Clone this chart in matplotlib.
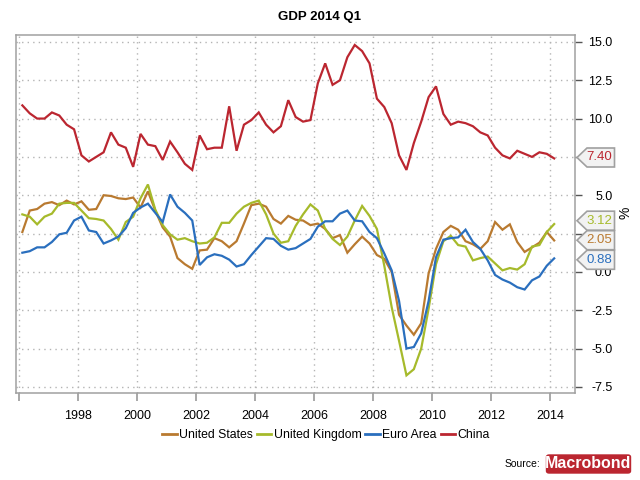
import numpy as np
import matplotlib
matplotlib.use("Agg")
import matplotlib.pyplot as plt
from matplotlib.patches import Polygon, FancyBboxPatch
from matplotlib.lines import Line2D

plt.rcParams['font.family'] = ['Liberation Sans', 'DejaVu Sans']

quarters = np.arange(1996.125, 2014.2, 0.25)

china = [10.86,10.34,10.0,10.0,10.4,10.2,9.6,9.3,7.6,7.2,7.5,7.8,9.1,8.3,8.1,6.85,9.0,8.3,8.2,7.3,
         8.5,7.8,7.05,6.65,8.9,8.0,8.1,8.1,10.8,7.9,9.6,9.9,10.4,9.6,9.1,9.5,11.2,10.1,9.8,9.9,
         12.3,13.6,12.2,12.5,14.0,14.8,14.4,13.6,11.3,10.75,9.7,7.6,6.65,8.4,9.8,11.4,12.1,10.3,9.6,9.8,
         9.7,9.5,9.1,8.9,8.1,7.6,7.4,7.9,7.7,7.5,7.8,7.7,7.40]
us = [2.6,4.0,4.1,4.45,4.55,4.35,4.65,4.4,4.6,4.05,4.1,5.0,4.95,4.8,4.75,4.85,4.2,5.25,4.0,2.9,
      2.3,0.9,0.5,0.2,1.4,1.45,2.2,2.0,1.6,2.0,3.15,4.35,4.45,4.25,3.45,3.15,3.65,3.4,3.35,3.05,
      3.15,2.8,2.2,2.4,1.25,1.8,2.3,1.85,1.1,0.85,0.0,-2.8,-3.5,-4.1,-3.35,-0.1,1.5,2.6,3.0,2.75,
      2.0,1.8,1.5,2.0,3.25,2.75,3.1,1.95,1.3,1.6,1.9,2.6,2.05]
uk = [3.75,3.6,3.1,3.6,3.8,4.45,4.5,4.5,4.0,3.5,3.45,3.35,2.8,2.1,3.25,3.6,4.8,5.7,4.05,3.05,
      2.45,2.1,2.2,2.0,1.85,1.9,2.25,3.2,3.2,3.8,4.25,4.5,4.65,3.75,2.5,1.9,2.0,3.0,3.75,4.4,
      4.0,2.8,2.15,1.75,2.3,3.35,4.3,3.65,2.8,0.4,-2.3,-4.5,-6.75,-6.35,-5.0,-2.4,0.5,2.0,2.35,1.75,
      1.65,0.75,0.9,1.0,0.55,0.1,0.25,0.15,0.5,1.65,1.75,2.6,3.12]
euro = [1.25,1.35,1.6,1.6,1.95,2.45,2.55,3.35,3.6,2.7,2.6,1.85,2.05,2.3,2.85,3.85,4.2,4.45,3.85,3.25,
        5.05,4.25,3.85,3.35,0.45,0.95,1.15,1.05,0.8,0.35,0.5,1.1,1.65,2.2,2.15,1.7,1.45,1.55,1.85,2.15,
        2.95,3.3,3.3,3.8,4.0,3.35,3.3,2.6,2.2,1.2,0.1,-1.9,-5.0,-4.9,-4.0,-1.9,0.95,2.1,2.2,2.25,
        2.75,1.95,1.5,0.75,-0.2,-0.5,-0.7,-1.0,-1.15,-0.55,-0.3,0.4,0.88]

series_names = ["United States", "United Kingdom", "Euro Area", "China"]
series_colors = ["#b97a30", "#a6ba2b", "#2a6fbe", "#bb2630"]
series_values = [us, uk, euro, china]
x_ticks = list(range(1996, 2015, 2))
x_labels = [""] + [str(y) for y in range(1998, 2015, 2)]
y_ticks = [15.0, 12.5, 10.0, 7.5, 5.0, 2.5, 0.0, -2.5, -5.0, -7.5]
# 7.5 and 2.5 sit behind the value call-outs in the reference
y_labels = ["15.0", "12.5", "10.0", "", "5.0", "", "0.0", "-2.5", "-5.0", "-7.5"]
callout_text = ["3.12", "2.05", "0.88", "7.40"]

W, H = 640, 480
fig = plt.figure(figsize=(6.4, 4.8), dpi=100)
L, R, T, B = 16.3, 575.3, 34.7, 393.0
ax = fig.add_axes([L / W, 1 - B / H, (R - L) / W, (B - T) / H])
ax.set_xlim(1995.92, 2014.84)
ax.set_ylim(-7.9, 15.47)

for name, col, vals in zip(series_names, series_colors, series_values):
    ax.plot(quarters, vals, color=col, lw=1.6, solid_joinstyle='miter', label=name, zorder=3)

ax.grid(True, color="#b4b4b4", lw=1.0, linestyle=(0, (1, 3)))
ax.set_axisbelow(True)
for s in ax.spines.values():
    s.set_color("#a0a0a0")
    s.set_linewidth(1.1)
ax.set_xticks(x_ticks)
ax.set_xticklabels(x_labels, fontsize=9)
ax.tick_params(axis='x', length=6, color="#999999", width=1.2, pad=6, labelcolor="black")
ax.yaxis.tick_right()
ax.set_yticks(y_ticks)
ax.set_yticklabels(y_labels, fontsize=9)
ax.tick_params(axis='y', length=5, color="#555555", width=1, pad=5)
for lab in ax.get_yticklabels():
    lab.set_ha('right')
    lab.set_transform(ax.get_yaxis_transform() + matplotlib.transforms.ScaledTranslation(37 / 100, 0, fig.dpi_scale_trans))


def px(x, y):
    return (x / W, 1 - y / H)


# value call-outs at the right edge
callout_y = [220.7, 240.2, 259.8, 157.5]
callout_col = [series_colors[1], series_colors[0], series_colors[2], series_colors[3]]
for txt, cy, col in zip(callout_text, callout_y, callout_col):
    pts = [px(577, cy), px(587, cy - 9.5), px(614.5, cy - 9.5), px(614.5, cy + 9.5), px(587, cy + 9.5)]
    fig.add_artist(Polygon(pts, closed=True, transform=fig.transFigure, facecolor="#f2f2f2",
                           edgecolor="#a0a0a0", lw=1.2, zorder=5))
    x0, y0 = px(612.5, cy)
    fig.text(x0, y0, txt, color=col, fontsize=9.5, ha='right', va='center', zorder=6)

fig.text(*px(625.5, 213), "%", fontsize=10, rotation=90, ha='center', va='center')
fig.text(*px(319, 17), "GDP 2014 Q1", fontsize=9.5, fontweight='bold', ha='center', va='center')

handles = [Line2D([0], [0], color=c, lw=2) for c in series_colors]
fig.legend(handles, series_names, loc='center', bbox_to_anchor=px(326, 435), ncol=4, frameon=False,
           fontsize=8.8, handlelength=1.2, handletextpad=0.2, columnspacing=0.3, borderpad=0)

fig.text(*px(540, 464), "Source:", fontsize=7.5, ha='right', va='center')
fig.add_artist(FancyBboxPatch(px(546.5, 473), 84 / W, 18 / H, transform=fig.transFigure,
                              boxstyle="round,pad=0,rounding_size=0.004", facecolor="#bb2630",
                              edgecolor="#bb2630", lw=1, zorder=5))
fig.text(*px(588.5, 464), "Macrobond", color="white", fontsize=11.5, fontweight='bold',
         family=['Liberation Sans Narrow', 'Liberation Sans'], ha='center', va='center', zorder=6)

fig.savefig("out.png", dpi=100)
